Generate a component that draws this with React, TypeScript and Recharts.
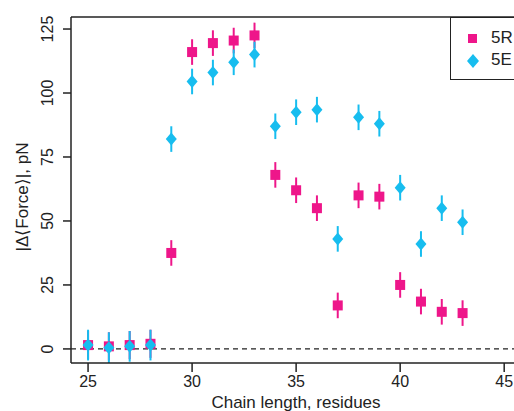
import React from 'react'
import {
  ErrorBar,
  Label,
  ReferenceLine,
  Scatter,
  ScatterChart,
  XAxis,
  YAxis,
} from 'recharts'

const chainLength = [25, 26, 27, 28, 29, 30, 31, 32, 33, 34, 35, 36, 37, 38, 39, 40, 41, 42, 43]
const force5R = [1.5, 1, 1.5, 2, 37.5, 116, 119.5, 120.5, 122.5, 68, 62, 55, 17, 60, 59.5, 25, 18.5, 14.5, 14]
const error5R = [5.5, 5.5, 5.5, 5.5, 5, 5, 5, 5, 5, 5, 5, 5, 5, 5, 5, 5, 5, 5, 5]
const force5E = [1.5, 0.5, 1, 1.5, 82, 104.5, 108, 112, 115, 87, 92.5, 93.5, 43, 90.5, 88, 63, 41, 55, 49.5]
const error5E = [6, 6, 6, 6, 5, 5, 5, 5, 5, 5, 5, 5, 5, 5, 5, 5, 5, 5, 5]

const xTicks = [25, 30, 35, 40, 45]
const yTicks = [0, 25, 50, 75, 100, 125]

const X_DOMAIN: [number, number] = [24.18, 46]
const Y_DOMAIN: [number, number] = [-5.5, 129.7]

const PINK = '#EE168A'
const CYAN = '#17BDEF'
const INK = '#222'
const FONT = '"Liberation Sans", Arial, sans-serif'

const data5R = chainLength.map((x, i) => ({ x, y: force5R[i], err: error5R[i] }))
const data5E = chainLength.map((x, i) => ({ x, y: force5E[i], err: error5E[i] }))

function SquareShape(props: any) {
  const { cx, cy } = props
  return <rect x={cx - 5} y={cy - 5} width={10} height={10} fill={PINK} />
}

function DiamondShape(props: any) {
  const { cx, cy } = props
  const r = 6.5
  return <polygon points={`${cx},${cy - r} ${cx + r - 1},${cy} ${cx},${cy + r} ${cx - r + 1},${cy}`} fill={CYAN} />
}

function YTick(props: any) {
  const { y, payload } = props
  return (
    <text
      x={48}
      y={y}
      transform={`rotate(-90, 48, ${y})`}
      textAnchor="middle"
      dominantBaseline="central"
      fontSize={16}
      fontFamily={FONT}
      fill={INK}
    >
      {payload.value}
    </text>
  )
}

function LegendBox() {
  return (
    <div
      style={{
        position: 'absolute',
        left: 450,
        top: 17,
        boxSizing: 'border-box',
        width: 110,
        height: 63,
        border: `1.5px solid ${INK}`,
        background: '#fff',
        fontFamily: FONT,
        fontSize: 17,
        color: INK,
      }}
    >
      <div style={{ position: 'absolute', left: 17, top: 16, width: 9, height: 9, background: PINK }} />
      <div style={{ position: 'absolute', left: 40, top: 10, lineHeight: '20px' }}>5R</div>
      <svg style={{ position: 'absolute', left: 15, top: 36 }} width={14} height={14}>
        <polygon points="7,0 13,7 7,14 1,7" fill={CYAN} />
      </svg>
      <div style={{ position: 'absolute', left: 40, top: 32, lineHeight: '20px' }}>5E</div>
    </div>
  )
}

export default function App() {
  return (
    <div style={{ position: 'fixed', left: 0, top: 0, width: 514, height: 411, overflow: 'hidden', background: '#fff' }}>
      <ScatterChart width={560} height={411} margin={{ top: 17, right: 35, bottom: 0, left: 0 }}>
        <XAxis
          type="number"
          dataKey="x"
          domain={X_DOMAIN}
          ticks={xTicks}
          allowDataOverflow
          height={48}
          tickSize={9}
          tickMargin={4}
          tick={{ fontSize: 16, fontFamily: FONT, fill: INK }}
          tickLine={{ stroke: INK, strokeWidth: 1.5 }}
          axisLine={{ stroke: INK, strokeWidth: 1.5 }}
        >
          <Label
            content={() => (
              <text x={296} y={408} textAnchor="middle" fontSize={17} fontFamily={FONT} fill={INK}>
                Chain length, residues
              </text>
            )}
          />
        </XAxis>
        <YAxis
          type="number"
          dataKey="y"
          domain={Y_DOMAIN}
          ticks={yTicks}
          allowDataOverflow
          width={71}
          tickSize={8}
          tick={<YTick />}
          tickLine={{ stroke: INK, strokeWidth: 1.5 }}
          axisLine={{ stroke: INK, strokeWidth: 1.5 }}
        >
          <Label
            content={() => (
              <text
                x={22}
                y={197}
                transform="rotate(-90, 22, 197)"
                textAnchor="middle"
                dominantBaseline="central"
                fontSize={17}
                fontFamily={FONT}
                fill={INK}
              >
                |Δ⟨Force⟩|, pN
              </text>
            )}
          />
        </YAxis>
        <ReferenceLine y={Y_DOMAIN[1]} stroke={INK} strokeWidth={1.5} ifOverflow="visible" />
        <ReferenceLine y={0} stroke={INK} strokeWidth={1.3} strokeDasharray="5 4" />
        <Scatter name="5R" data={data5R} shape={<SquareShape />} isAnimationActive={false}>
          <ErrorBar dataKey="err" direction="y" width={0} stroke={PINK} strokeWidth={2} />
        </Scatter>
        <Scatter name="5E" data={data5E} shape={<DiamondShape />} isAnimationActive={false}>
          <ErrorBar dataKey="err" direction="y" width={0} stroke={CYAN} strokeWidth={2} />
        </Scatter>
      </ScatterChart>
      <LegendBox />
    </div>
  )
}
